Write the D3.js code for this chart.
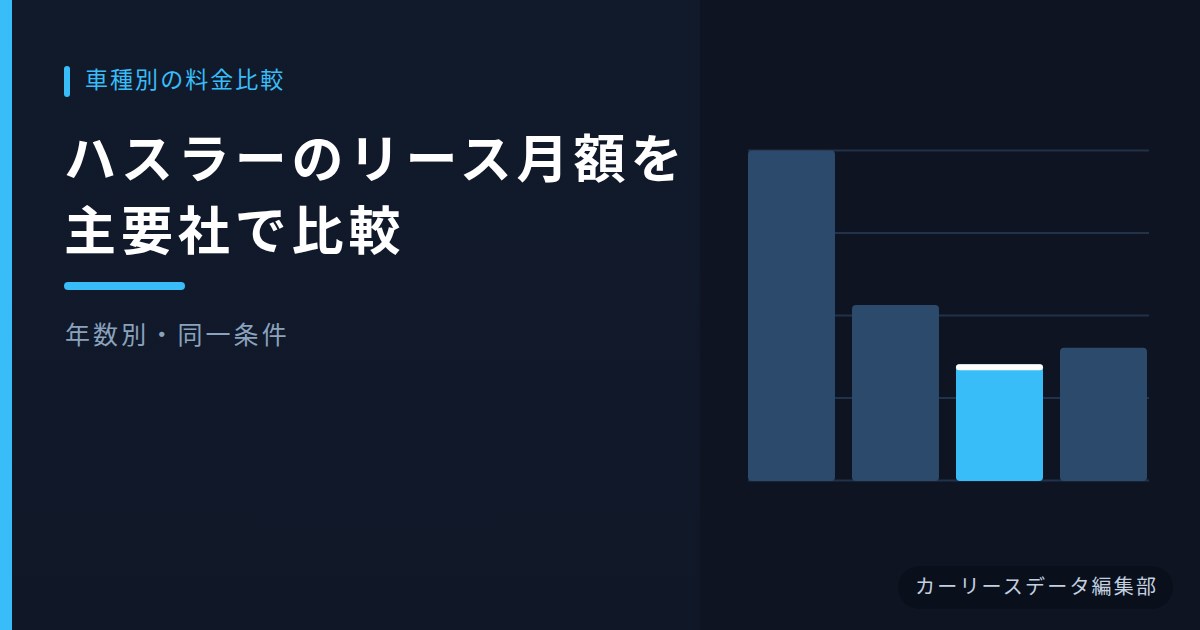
<!DOCTYPE html>
<html><head><meta charset="utf-8">
<script src="https://cdn.jsdelivr.net/npm/d3@7"></script>
<style>html,body{margin:0;padding:0;background:#0e1521;}svg{display:block;}</style>
</head><body>
<script>
const companies = ["A社","B社","C社","D社"];
const monthlyFees = [38000, 20200, 13400, 15300];
const highlight = ["C社"];
const gridTicks = [0, 9500, 19000, 28500, 38000];

const W = 1200, H = 630;
const font = "'Noto Sans CJK JP','Noto Sans JP',sans-serif";
const svg = d3.select("body").append("svg").attr("width", W).attr("height", H);

const defs = svg.append("defs");
const lg = defs.append("linearGradient").attr("id","lbg").attr("x1",0).attr("y1",0).attr("x2",0).attr("y2",1);
lg.append("stop").attr("offset",0).attr("stop-color","#111a2b");
lg.append("stop").attr("offset",1).attr("stop-color","#101828");

svg.append("rect").attr("width",W).attr("height",H).attr("fill","#0e1421");
svg.append("rect").attr("width",700).attr("height",H).attr("fill","url(#lbg)");
svg.append("rect").attr("width",12).attr("height",H).attr("fill","#38bdf8");

// kicker
svg.append("rect").attr("x",64).attr("y",66).attr("width",6).attr("height",31).attr("rx",3).attr("fill","#38bdf8");
svg.append("text").attr("x",85).attr("y",88).attr("font-family",font).attr("font-size",23).attr("letter-spacing",2.05)
  .attr("fill","#38bdf8").text("車種別の料金比較");

// title
const title = svg.append("text").attr("font-family",font).attr("font-weight",700).attr("font-size",52)
  .attr("letter-spacing",4.9).attr("fill","#ffffff");
title.append("tspan").attr("x",64).attr("y",178).text("ハスラーのリース月額を");
title.append("tspan").attr("x",64).attr("y",250).text("主要社で比較");

svg.append("rect").attr("x",64).attr("y",282).attr("width",121).attr("height",8).attr("rx",4).attr("fill","#38bdf8");

svg.append("text").attr("x",65).attr("y",344).attr("font-family",font).attr("font-size",25).attr("letter-spacing",3.1)
  .attr("fill","#8aa2bd").text("年数別・同一条件");

// chart
const x = d3.scaleBand().domain(companies).range([748, 1147]).paddingInner(0.1635).paddingOuter(0);
const y = d3.scaleLinear().domain([0, d3.max(monthlyFees)]).range([480.5, 150.5]);

svg.append("g").selectAll("line").data(gridTicks).join("line")
  .attr("x1",748).attr("x2",1149).attr("y1",d=>y(d)).attr("y2",d=>y(d))
  .attr("stroke","#21334a").attr("stroke-width",2);

const bars = svg.append("g").selectAll("g").data(companies.map((c,i)=>({c,v:monthlyFees[i]}))).join("g");
bars.append("rect")
  .attr("x",d=>x(d.c)).attr("width",x.bandwidth())
  .attr("y",d=>y(d.v)).attr("height",d=>y(0)-y(d.v)+0.5).attr("rx",4)
  .attr("fill",d=>highlight.includes(d.c)?"#38bdf8":"#2c4a6c");
bars.filter(d=>highlight.includes(d.c)).append("rect")
  .attr("x",d=>x(d.c)).attr("width",x.bandwidth())
  .attr("y",d=>y(d.v)).attr("height",6).attr("rx",3).attr("fill","#ffffff");

// badge
svg.append("rect").attr("x",898).attr("y",566).attr("width",275).attr("height",43).attr("rx",21.5).attr("fill","#0a101b");
svg.append("text").attr("x",915).attr("y",594).attr("font-family",font).attr("font-size",20).attr("letter-spacing",2.2)
  .attr("fill","#c3d0e0").text("カーリースデータ編集部");
</script>
</body></html>
